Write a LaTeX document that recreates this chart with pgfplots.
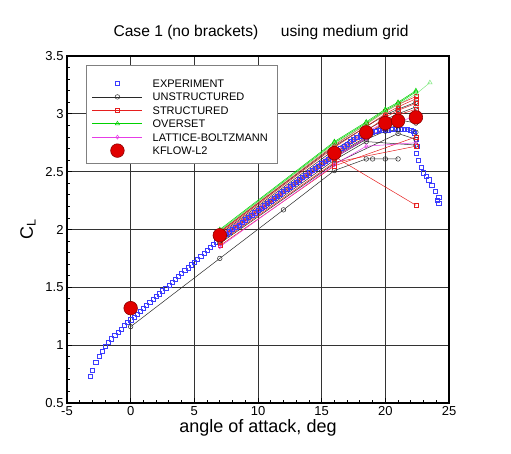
\documentclass[border=0pt]{standalone}
\usepackage{fontspec}
\setmainfont{Liberation Sans}
\usepackage{pgfplots}
\pgfplotsset{compat=1.18}
\definecolor{expblue}{RGB}{60,60,255}
\definecolor{unsgray}{RGB}{40,40,40}
\definecolor{strred}{RGB}{230,30,30}
\definecolor{ovgreen}{RGB}{0,210,0}
\definecolor{lbmag}{RGB}{230,60,230}
\definecolor{kred}{RGB}{225,0,0}
\definecolor{kedge}{RGB}{140,0,0}
\begin{document}
\begin{tikzpicture}
\useasboundingbox (-67bp,-51bp) rectangle (444bp,403bp);
\begin{axis}[
  at={(0,0)}, anchor=south west,
  scale only axis, width=382bp, height=347bp,
  xmin=-5, xmax=25, ymin=0.5, ymax=3.5,
  xtick={-5,0,5,10,15,20,25}, ytick={0.5,1,1.5,2,2.5,3,3.5},
  minor x tick num=4, minor y tick num=4,
  tick align=inside, xtick pos=bottom, ytick pos=left,
  major tick length=5bp, minor tick length=3bp,
  grid=major, major grid style={draw=black!80, line width=0.8bp},
  axis line style={line width=1.6bp},
  every tick/.style={black, line width=0.8bp},
  /pgf/number format/assume math mode=true,
  ticklabel style={font=\fontsize{13bp}{15bp}\selectfont},
  xlabel={angle of attack, deg},
  ylabel={C\textsubscript{L}},
  label style={font=\fontsize{18bp}{20bp}\selectfont},
  ylabel style={xshift=0bp, yshift=3bp},
  xlabel style={yshift=3bp},
  title={Case 1 (no brackets)\hspace{22.7bp}using medium grid},
  title style={font=\fontsize{15.6bp}{18bp}\selectfont, anchor=base, at={(axis description cs:0.5,1)}, yshift=14bp, xshift=3bp},
  legend style={at={(axis description cs:0.0523,0.9406)}, anchor=north west, draw=white, fill=white,
    font=\fontsize{11bp}{13bp}\selectfont, inner xsep=5bp, inner ysep=0bp, column sep=8bp, row sep=0bp,
    nodes={inner xsep=2bp, inner ysep=1.7bp, text height=8.95bp, text depth=1.05bp}},
  legend cell align=left,
  legend image code/.code={\draw[mark repeat=2,mark phase=2,#1] plot coordinates {(0bp,0bp) (25bp,0bp) (50bp,0bp)};},
]
% EXPERIMENT
\addplot[only marks, mark=square, mark size=2.1bp, color=expblue, mark options={draw=expblue, line width=0.45bp},
  legend image code/.code={\pgfsetstrokecolor{expblue}\pgfsetlinewidth{0.7bp}\pgfpathrectangle{\pgfqpoint{22.8bp}{-2.2bp}}{\pgfqpoint{4.4bp}{4.4bp}}\pgfusepath{stroke}}] coordinates {
(-3.2,0.73) (-3.0,0.78) (-2.75,0.85) (-2.5,0.905) (-2.25,0.95) (-2.0,0.99) (-1.75,1.025) (-1.5,1.055)
(-1.25,1.085) (-1.0,1.11) (-0.75,1.14) (-0.5,1.17) (-0.25,1.195) (0,1.22) (0.25,1.245) (0.5,1.27)
(0.75,1.295) (1,1.32) (1.25,1.345) (1.5,1.37) (1.75,1.395) (2,1.42) (2.25,1.445) (2.5,1.47)
(2.75,1.495) (3,1.52) (3.25,1.545) (3.5,1.57) (3.75,1.595) (4,1.62) (4.25,1.645) (4.5,1.67)
(4.75,1.695) (5,1.72) (5.25,1.745) (5.5,1.77) (5.75,1.795) (6,1.82) (6.25,1.845) (6.5,1.87)
(6.75,1.895) (7,1.92) (7.25,1.94) (7.5,1.96) (7.75,1.98) (8,2.00) (8.25,2.02) (8.5,2.04)
(8.75,2.06) (9,2.085) (9.25,2.105) (9.5,2.125) (9.75,2.145) (10,2.165) (10.25,2.185) (10.5,2.205)
(10.75,2.225) (11,2.245) (11.25,2.27) (11.5,2.29) (11.75,2.31) (12,2.33) (12.25,2.35) (12.5,2.37)
(12.75,2.39) (13,2.41) (13.25,2.43) (13.5,2.45) (13.75,2.47) (14,2.49) (14.25,2.51) (14.5,2.53)
(14.75,2.55) (15,2.57) (15.25,2.59) (15.5,2.61) (15.75,2.635) (16,2.66) (16.25,2.68) (16.5,2.70)
(16.75,2.72) (17,2.74) (17.25,2.76) (17.5,2.78) (17.75,2.795) (18,2.81) (18.25,2.82) (18.5,2.83)
(18.75,2.838) (19,2.845) (19.25,2.85) (19.5,2.855) (19.75,2.858) (20,2.86) (20.25,2.863) (20.5,2.866)
(20.75,2.868) (21,2.87) (21.25,2.87) (21.5,2.87) (21.75,2.865) (22,2.86) (22.2,2.85) (22.3,2.83)
(22.4,2.78) (22.5,2.72) (22.4,2.66) (22.6,2.60) (22.8,2.54) (23.0,2.49) (23.2,2.46) (23.4,2.43)
(23.65,2.38) (23.9,2.33) (24.2,2.28) (24.1,2.25) (24.2,2.23)
};
\addlegendentry{EXPERIMENT}
% UNSTRUCTURED
\addplot[color=unsgray, line width=0.5bp, mark=o, mark size=2.3bp] coordinates {
(0,1.16) (7,1.75) (12,2.17) (16,2.51) (18.5,2.61) (19,2.61) (20,2.61) (21,2.61)};
\addlegendentry{UNSTRUCTURED}
\addplot[forget plot, color=unsgray, line width=0.5bp, mark=o, mark size=2.3bp] coordinates {
(7,1.93) (16,2.64) (18.5,2.80) (20,2.87) (21,2.90) (22.4,2.84)};
\addplot[forget plot, color=unsgray, line width=0.5bp, mark=o, mark size=2.3bp] coordinates {
(7,1.96) (16,2.69) (18.5,2.86) (20,2.95) (21,3.00) (22.4,3.06)};
\addplot[forget plot, color=unsgray, line width=0.5bp, mark=o, mark size=2.3bp] coordinates {
(7,1.90) (16,2.60) (18.5,2.76) (22.4,2.73)};
\addplot[forget plot, color=unsgray, line width=0.5bp, mark=o, mark size=2.3bp] coordinates {
(7,1.98) (16,2.72) (18.5,2.89) (20,2.99) (21,3.04) (22.4,3.10)};
\addplot[forget plot, color=unsgray, line width=0.5bp, mark=o, mark size=2.3bp] coordinates {
(7,1.88) (16,2.57) (21,2.83) (22.4,2.78)};
\addplot[forget plot, color=unsgray, line width=0.5bp, mark=o, mark size=2.3bp] coordinates {
(7,1.94) (16,2.66) (18.5,2.83) (20,2.91) (21,2.95) (22.4,2.92)};
\addplot[forget plot, color=unsgray, line width=0.5bp, mark=o, mark size=2.3bp] coordinates {
(7,1.92) (16,2.62) (18.5,2.78) (20,2.85) (21,2.86)};
\addplot[forget plot, color=violet!80!black, line width=0.5bp, mark=o, mark size=2.3bp] coordinates {
(7,1.91) (16,2.63) (18.5,2.79) (20,2.87)};
% STRUCTURED
\addplot[color=strred, line width=0.5bp, mark=square, mark size=2bp] coordinates {
(7,1.97) (16,2.71) (18.5,2.89) (20,3.00) (21,3.06) (22.4,3.13)};
\addlegendentry{STRUCTURED}
\addplot[forget plot, color=strred, line width=0.5bp, mark=square, mark size=2bp] coordinates {
(7,1.92) (16,2.63) (22.4,2.21)};
\addplot[forget plot, color=strred, line width=0.5bp, mark=square, mark size=2bp] coordinates {
(7,1.89) (16,2.58) (22.4,2.72)};
\addplot[forget plot, color=strred, line width=0.5bp, mark=square, mark size=2bp] coordinates {
(7,1.95) (16,2.67) (18.5,2.85) (20,2.97) (21,3.03) (22.4,3.09)};
\addplot[forget plot, color=strred, line width=0.5bp, mark=square, mark size=2bp] coordinates {
(7,1.86) (16,2.55) (22.4,2.80)};
\addplot[forget plot, color=strred, line width=0.5bp, mark=square, mark size=2bp] coordinates {
(7,1.98) (16,2.73) (18.5,2.91) (20,3.02) (21,3.08) (22.4,3.15)};
\addplot[forget plot, color=strred, line width=0.5bp, mark=square, mark size=2bp] coordinates {
(7,1.93) (16,2.65) (18.5,2.82) (20,2.93) (21,2.99) (22.4,3.04)};
% OVERSET
\addplot[color=ovgreen, line width=0.5bp, mark=triangle, mark size=2.5bp] coordinates {
(7,2.00) (16,2.76) (18.5,2.93) (20,3.04) (21,3.10) (22.4,3.20)};
\addlegendentry{OVERSET}
\addplot[forget plot, color=ovgreen, line width=0.5bp, mark=triangle, mark size=2.5bp] coordinates {
(7,1.99) (16,2.75) (18.5,2.92) (20,3.03) (21,3.09) (22.4,3.19)};
\addplot[forget plot, color=ovgreen!50, line width=0.5bp, mark=triangle, mark size=2.5bp] coordinates {
(7,1.99) (16,2.74) (18.5,2.91) (20,3.02) (21,3.08) (22.4,3.17) (23.5,3.27)};
% LATTICE-BOLTZMANN
\addplot[color=lbmag, line width=0.5bp, mark=diamond, mark size=2bp] coordinates {
(7,1.91) (16,2.62) (18.5,2.79) (20,2.88) (21,2.93) (22.4,2.98)};
\addlegendentry{LATTICE-BOLTZMANN}
\addplot[forget plot, color=lbmag, line width=0.5bp, mark=diamond, mark size=2bp] coordinates {
(7,1.85) (16,2.56) (18.5,2.72) (22.4,2.75)};
\addplot[forget plot, color=lbmag, line width=0.5bp, mark=diamond, mark size=2bp] coordinates {
(7,1.94) (16,2.67) (18.5,2.84) (20,2.93)};
% KFLOW-L2
\addplot[only marks, mark=*, mark size=6.8bp, mark options={fill=kred, draw=kedge, line width=0.6bp}] coordinates {
(0,1.32) (7,1.95) (16,2.66) (18.5,2.84) (20,2.92) (21,2.94) (22.4,2.97)};
\addlegendentry{KFLOW-L2}
\filldraw[draw=gray, fill=white, line width=0.6bp] (axis description cs:0.0497,0.974) rectangle (axis description cs:0.5497,0.6916);
\end{axis}
\end{tikzpicture}
\end{document}
